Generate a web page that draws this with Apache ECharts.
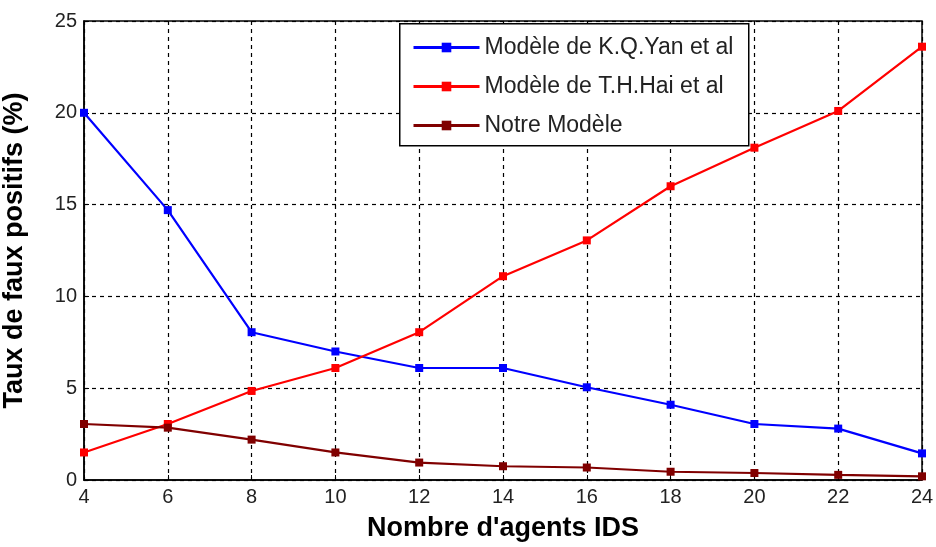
<!DOCTYPE html>
<html><head><meta charset="utf-8">
<script src="https://cdn.jsdelivr.net/npm/echarts@6/dist/echarts.min.js"></script>
<style>html,body{margin:0;padding:0;background:#fff}#c{width:936px;height:547px}</style>
</head><body><div id="c"></div>
<script>
const xValues = [4, 6, 8, 10, 12, 14, 16, 18, 20, 22, 24];
const yanValues = [20, 14.7, 8.05, 7.0, 6.1, 6.1, 5.05, 4.1, 3.05, 2.8, 1.45];
const haiValues = [1.5, 3.05, 4.85, 6.1, 8.05, 11.1, 13.05, 16.0, 18.1, 20.1, 23.6];
const notreValues = [3.05, 2.85, 2.2, 1.5, 0.95, 0.75, 0.68, 0.45, 0.38, 0.28, 0.2];
const seriesNames = ["Modèle de K.Q.Yan et al", "Modèle de T.H.Hai et al", "Notre Modèle"];
const xTitle = "Nombre d'agents IDS";
const yTitle = "Taux de faux positifs (%)";

const zip = v => xValues.map((x, i) => [x, v[i]]);
const colors = ['#0000ff', '#ff0000', '#800000'];
const font = 'Liberation Sans, Arial, sans-serif';
const mk = (name, vals, c) => ({
  name, type: 'line', data: zip(vals), symbol: 'rect', symbolSize: 8,
  itemStyle: {color: c}, lineStyle: {color: c, width: 2.2}, animation: false
});
const chart = echarts.init(document.getElementById('c'));
chart.setOption({
  animation: false,
  grid: {left: 84, right: 14, top: 21, bottom: 67, show: true, borderColor: '#000', borderWidth: 1.5, backgroundColor: '#fff', containLabel: false, outerBoundsMode: 'none'},
  graphic: [{
    type: 'rect', left: 399, top: 23, z: 5,
    shape: {width: 349, height: 122},
    style: {fill: '#fff', stroke: '#000', lineWidth: 1.5}
  }],
  legend: {
    orient: 'vertical', left: 399, top: 23, z: 10,
    padding: [13, 10, 8, 13], itemGap: 16, itemWidth: 66, itemHeight: 12,
    itemStyle: {borderWidth: 0},
    lineStyle: {width: 3},
    textStyle: {fontFamily: font, fontSize: 23, color: '#222'},
    data: seriesNames
  },
  xAxis: {
    type: 'value', min: 4, max: 24, interval: 2,
    name: xTitle, nameLocation: 'middle', nameGap: 35,
    nameTextStyle: {fontFamily: font, fontSize: 27, fontWeight: 'bold', color: '#000'},
    axisLine: {lineStyle: {color: '#000', width: 1.5}},
    axisTick: {inside: true, length: 5, lineStyle: {color: '#000'}},
    axisLabel: {fontFamily: font, fontSize: 20, color: '#222', margin: 7},
    splitLine: {show: true, lineStyle: {color: '#000', type: [4, 4], width: 1.2}}
  },
  yAxis: {
    type: 'value', min: 0, max: 25, interval: 5,
    name: yTitle, nameLocation: 'middle', nameGap: 56,
    nameTextStyle: {fontFamily: font, fontSize: 27, fontWeight: 'bold', color: '#000'},
    axisLine: {lineStyle: {color: '#000', width: 1.5}},
    axisTick: {inside: true, length: 5, lineStyle: {color: '#000'}},
    axisLabel: {fontFamily: font, fontSize: 20, color: '#222', margin: 7},
    splitLine: {show: true, lineStyle: {color: '#000', type: [4, 4], width: 1.2}}
  },
  series: [mk(seriesNames[0], yanValues, colors[0]), mk(seriesNames[1], haiValues, colors[1]), mk(seriesNames[2], notreValues, colors[2])]
});
</script></body></html>
